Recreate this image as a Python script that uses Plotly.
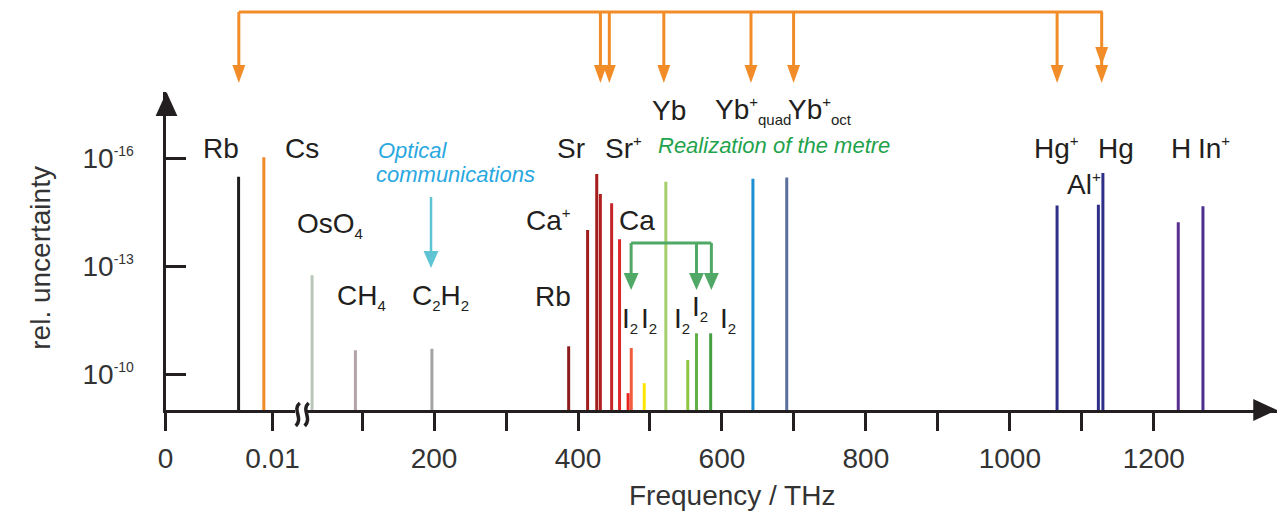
import plotly.graph_objects as go

W, H = 1284, 515

# ---------------- data ----------------
species = ["Rb", "Cs", "OsO4", "CH4", "C2H2", "Rb", "Ca+", "Sr", "Sr", "Sr+", "Ca",
           "I2", "I2", "I2", "Yb", "I2", "I2", "I2", "Yb+ quad", "Yb+ oct",
           "Hg+", "Al+", "Hg", "H", "In+"]
freq_thz = [0.00683, 0.00919, 30.5, 90.7, 197.0, 387.0, 413.3, 426.0, 431.0, 446.7, 457.7,
            469.6, 474.0, 492.0, 522.0, 552.5, 564.6, 584.3, 643.0, 690.0,
            1065.6, 1123.0, 1129.3, 1234.0, 1268.3]
rel_unc = [3.3e-16, 9.5e-17, 1.8e-13, 2.2e-11, 2.0e-11, 1.7e-11, 1.0e-14, 2.8e-16, 1.0e-15,
           1.8e-15, 1.8e-14, 3.4e-10, 1.9e-11, 1.8e-10, 4.6e-16, 4.1e-11, 7.4e-12, 7.4e-12,
           3.8e-16, 3.5e-16, 2.1e-15, 2.0e-15, 2.6e-16, 6.1e-15, 2.2e-15]
is_microwave = [True, True] + [False] * 23

y_tick_vals = [1e-16, 1e-13, 1e-10]
y_tick_text = ["10<sup><span style='font-size:14px'>-16</span></sup>",
               "10<sup><span style='font-size:14px'>-13</span></sup>",
               "10<sup><span style='font-size:14px'>-10</span></sup>"]
x_mw_tick_vals = [0, 0.01]
x_mw_tick_text = ["0", "0.01"]
x_opt_tick_vals = [100, 200, 300, 400, 500, 600, 700, 800, 900, 1000, 1100, 1200]
x_opt_tick_text = ["", "200", "", "400", "", "600", "", "800", "", "1000", "", "1200"]

# ---------------- styles ----------------
line_colors = ["#1f1f1f", "#f08a24", "#b9c6ba", "#b3a3ab", "#a3a3a3", "#8a1c1c", "#a01d1d",
               "#a51c1c", "#b01e1e", "#c4262a", "#e1262a", "#e8231f", "#f15c3c", "#ffe600",
               "#a5cf6a", "#8dc63f", "#63b046", "#45a044", "#1b8fd2", "#5a6f9c",
               "#2f2f8a", "#2f2f8a", "#2f2f8a", "#5b2d8e", "#4a2f8f"]
AX = "#231f20"
FONT = "Liberation Sans, Arial, sans-serif"
ORANGE = "#f28c28"
GREEN = "#4fa865"
CYAN = "#5ec4d4"

# geometry (pixels)
Y_BASE, Y_TOP, DEC = 410, 92, 36.0
X0_MW, PX_MW, X_END_MW = 159, 10800.0, 290
X0_OPT, PX_OPT, X_START_OPT, X_END = 284.8, 0.7265, 300, 1281


def px(x):
    return x / W


def py(y):
    return (H - y) / H


fig = go.Figure()
for name, f, u, c, mw in zip(species, freq_thz, rel_unc, line_colors, is_microwave):
    fig.add_trace(go.Scatter(
        x=[f, f], y=[1e-9, u], mode="lines", name=name,
        line=dict(color=c, width=3),
        xaxis="x" if mw else "x2", yaxis="y", showlegend=False,
        hovertemplate=name + ": %{x} THz, %{y:.1e}<extra></extra>"))

shapes = []


def vline(x, y0, y1, color, w=3):
    shapes.append(dict(type="line", xref="paper", yref="paper", x0=px(x), x1=px(x),
                       y0=py(y0), y1=py(y1), line=dict(color=color, width=w)))


def hline(x0, x1, y, color, w=3):
    shapes.append(dict(type="line", xref="paper", yref="paper", x0=px(x0), x1=px(x1),
                       y0=py(y), y1=py(y), line=dict(color=color, width=w)))


def tri(points, color):
    d = "M " + " L ".join(f"{px(a):.5f},{py(b):.5f}" for a, b in points) + " Z"
    shapes.append(dict(type="path", xref="paper", yref="paper", path=d,
                       fillcolor=color, line=dict(width=0)))


def arrow_down(x, y0, tip, color, w=13, h=18, lw=3):
    vline(x, y0, tip - h + 2, color, lw)
    tri([(x - w / 2, tip - h), (x + w / 2, tip - h), (x, tip)], color)


# orange comb arrows on top
hline(233, 1105, 12, ORANGE)
for xa in [233, 598, 607, 662, 750, 793, 1059, 1104]:
    arrow_down(xa, 12, 83, ORANGE)
tri([(1104 - 6.5, 47), (1104 + 6.5, 47), (1104, 65)], ORANGE)

# optical communications arrow
arrow_down(427, 197, 268, CYAN, w=15, h=17, lw=2.5)

# green iodine bracket
hline(629, 710, 243, GREEN, 3)
for xa in [629, 695, 710]:
    arrow_down(xa, 243, 290, GREEN, w=15, h=17, lw=3)

# axis arrowheads
tri([(149, 116), (171, 116), (160, 92)], AX)
tri([(1257, 399), (1257, 421), (1281, 410)], AX)

# axis break
for xb in [291.5, 300.5]:
    shapes.append(dict(type="path", xref="paper", yref="paper",
                       path=(f"M {px(xb+3):.5f},{py(403):.5f} C {px(xb-5):.5f},{py(410):.5f} "
                             f"{px(xb+7):.5f},{py(418):.5f} {px(xb-1):.5f},{py(426):.5f}"),
                       line=dict(color=AX, width=3.5)))

# ---------------- annotations ----------------
ann = []


def label(text, x, y, size=28, color=AX, xanchor="center", italic=False, angle=0):
    if italic:
        text = "<i>" + text + "</i>"
    ann.append(dict(text=text, x=px(x), y=py(y), xref="paper", yref="paper",
                    xanchor=xanchor, yanchor="middle", showarrow=False, textangle=angle,
                    font=dict(family=FONT, size=size, color=color)))


SUP = "<sup><span style='font-size:15px'>+</span></sup>"


def sub(t):
    return "<sub><span style='font-size:15px'>" + t + "</span></sub>"


label("Rb", 215, 148)
label("Cs", 297, 148)
label("OsO" + sub("4"), 325, 225)
label("CH" + sub("4"), 357, 297)
label("C" + sub("2") + "H" + sub("2"), 437, 297)
label("Rb", 550, 297)
label("Ca" + SUP, 546, 220)
label("Sr", 568, 148)
label("Sr" + SUP, 621, 148)
label("Ca", 635, 220)
label("Yb", 667, 110)
label("Yb" + SUP + sub("quad"), 752, 110)
label("Yb" + SUP + sub("oct"), 820, 110)
label("Hg" + SUP, 1058, 148)
label("Hg", 1118, 148)
label("H", 1184, 148)
label("In" + SUP, 1217, 148)
label("Al" + SUP, 1086, 184)
for xi, yi in [(628, 320), (647, 320), (680, 320), (699, 308), (727, 320)]:
    label("I" + sub("2"), xi, yi)

label("Optical", 371, 150, size=22, color="#29a8df", xanchor="left", italic=True)
label("communications", 369, 175, size=22, color="#29a8df", xanchor="left", italic=True)
label("Realization of the metre", 654, 146, size=22, color="#1fa34c", xanchor="left", italic=True)

label("Frequency / THz", 731, 495, size=28, color="#333333")
label("rel. uncertainty", 32, 258, size=28, color="#333333", angle=-90)

fig.update_layout(
    width=W, height=H, autosize=False,
    margin=dict(l=0, r=0, t=0, b=0),
    paper_bgcolor="white", plot_bgcolor="white",
    showlegend=False,
    font=dict(family=FONT, size=28, color=AX),
    shapes=shapes, annotations=ann,
    xaxis=dict(domain=[px(X0_MW), px(X_END_MW)], range=[0, (X_END_MW - X0_MW) / PX_MW],
               anchor="y", showgrid=False, zeroline=False, showline=True, linewidth=3,
               linecolor=AX, ticks="outside", ticklen=18, tickwidth=3, tickcolor=AX,
               tickvals=x_mw_tick_vals, ticktext=x_mw_tick_text, ticklabelstandoff=3,
               tickfont=dict(family=FONT, size=28, color="#333333")),
    xaxis2=dict(domain=[px(X_START_OPT), px(X_END)],
                range=[(X_START_OPT - X0_OPT) / PX_OPT, (X_END - X0_OPT) / PX_OPT],
                anchor="y", showgrid=False, zeroline=False, showline=True, linewidth=3,
                linecolor=AX, ticks="outside", ticklen=18, tickwidth=3, tickcolor=AX,
                tickvals=x_opt_tick_vals, ticktext=x_opt_tick_text, ticklabelstandoff=3,
                tickfont=dict(family=FONT, size=28, color="#333333")),
    yaxis=dict(domain=[py(Y_BASE), py(Y_TOP)], type="log",
               range=[-9, -9 - (Y_BASE - Y_TOP) / DEC], anchor="x",
               showgrid=False, zeroline=False, showline=True, linewidth=3, linecolor=AX,
               ticks="inside", ticklen=20, tickwidth=3, tickcolor=AX,
               tickvals=y_tick_vals, ticktext=y_tick_text, ticklabelstandoff=23,
               tickfont=dict(family=FONT, size=28, color="#333333")),
)

fig.write_html("out.html", config={"displayModeBar": False},
               post_script="document.body.style.margin='0';document.body.style.overflow='hidden';")
